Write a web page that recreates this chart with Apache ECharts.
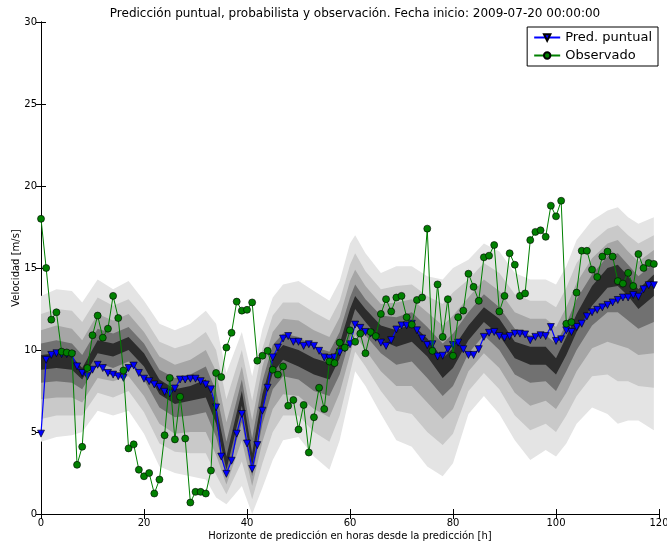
<!DOCTYPE html>
<html>
<head>
<meta charset="utf-8">
<script src="https://cdn.jsdelivr.net/npm/echarts@6/dist/echarts.min.js"></script>
<style>
  html, body { margin: 0; padding: 0; background: #fff; }
  #chart { width: 667px; height: 544px; }
</style>
</head>
<body>
<div id="chart"></div>
<script>
// point forecast (blue) and observation (green), hourly from h=0
var pred = [4.9, 9.4, 9.7, 9.8, 9.75, 9.75, 9.7, 9.0, 8.6, 8.4,
  8.8, 9.1, 8.9, 8.6, 8.5, 8.4, 8.3, 8.9, 9.05, 8.6,
  8.25, 8.1, 7.9, 7.75, 7.45, 7.35, 7.65, 8.2, 8.2, 8.25,
  8.25, 8.1, 7.9, 7.6, 6.5, 3.5, 2.45, 3.25, 4.9, 6.1,
  4.3, 2.75, 4.2, 6.3, 7.7, 9.55, 10.15, 10.7, 10.85, 10.5,
  10.5, 10.25, 10.35, 10.25, 9.95, 9.55, 9.5, 9.55, 9.85, 10.1,
  10.35, 11.55, 11.35, 11.1, 11.0, 10.75, 10.45, 10.25, 10.6, 11.25,
  11.5, 11.5, 11.6, 11.2, 10.7, 10.3, 10.35, 9.6, 9.65, 10.05,
  10.3, 10.45, 10.05, 9.7, 9.7, 10.05, 10.8, 11.05, 11.1, 10.85,
  10.75, 10.85, 11.0, 11.0, 10.95, 10.6, 10.8, 10.9, 10.85, 11.4,
  10.55, 10.65, 11.2, 11.1, 11.4, 11.6, 12.05, 12.3, 12.45, 12.6,
  12.75, 12.9, 13.05, 13.2, 13.2, 13.35, 13.25, 13.7, 13.95, 13.95];

var obs = [18.0, 15.0, 11.85, 12.3, 9.9, 9.85, 9.8, 3.0, 4.1, 8.9,
  10.9, 12.1, 10.75, 11.3, 13.3, 11.95, 8.75, 4.0, 4.25, 2.7,
  2.3, 2.5, 1.25, 2.1, 4.8, 8.3, 4.55, 7.15, 4.6, 0.7,
  1.35, 1.35, 1.25, 2.65, 8.6, 8.35, 10.15, 11.05, 12.95, 12.4,
  12.45, 12.9, 9.35, 9.65, 9.95, 8.8, 8.5, 9.0, 6.6, 6.95,
  5.15, 6.65, 3.75, 5.9, 7.7, 6.4, 9.3, 9.2, 10.45, 10.15,
  11.2, 10.5, 11.0, 9.8, 11.1, 10.85, 12.2, 13.1, 12.35, 13.2,
  13.3, 12.0, 11.55, 13.05, 13.2, 17.4, 9.95, 14.0, 10.8, 13.1,
  9.65, 12.0, 12.4, 14.65, 13.85, 13.0, 15.65, 15.75, 16.4, 12.35,
  13.3, 15.9, 15.2, 13.3, 13.45, 16.7, 17.2, 17.3, 16.9, 18.8,
  18.15, 19.1, 11.6, 11.7, 13.5, 16.05, 16.05, 14.9, 14.45, 15.7,
  16.0, 15.7, 14.2, 14.05, 14.7, 13.9, 15.85, 15.0, 15.3, 15.25];

// probabilistic forecast: quantile edges read at these hours
var bandHours = [0, 3, 6, 8, 11, 14, 17, 20, 23, 26, 29, 32, 34, 36, 39, 41, 43, 45, 47, 50,
  53, 56, 58, 60, 61, 63, 66, 69, 72, 75, 78, 80, 83, 86, 89, 92, 95, 98, 100, 102,
  104, 107, 110, 112, 114, 116, 119];

var lo1 = [4.4,4.7,4.8,5.0,6.3,6.0,6.3,4.9,2.9,2.5,2.3,2.1,1.0,0.6,1.7,0.0,1.6,3.3,4.5,4.7,3.5,2.7,4.5,7.3,8.7,7.8,6.1,4.5,4.1,2.9,2.3,3.1,6.1,7.2,6.1,4.5,3.3,3.9,3.5,4.3,5.5,6.5,6.1,5.5,5.7,5.7,5.1];
var lo2 = [5.8,6.0,6.0,6.0,7.4,7.1,7.5,6.2,4.3,3.8,3.7,3.7,2.4,1.2,3.2,0.9,3.1,5.0,6.0,6.0,5.0,4.4,6.0,8.6,9.9,9.0,7.5,6.3,6.1,5.0,4.2,4.9,7.5,8.6,7.6,6.0,5.1,5.5,5.0,6.0,7.2,8.4,8.5,8.1,8.1,7.8,7.7];
var lo3 = [7.0,7.1,7.1,6.8,8.3,8.1,8.4,7.2,5.5,4.9,5.0,5.0,3.6,1.8,4.5,1.7,4.4,6.4,7.3,7.2,6.4,5.9,7.4,9.7,10.9,10.0,8.7,7.8,7.8,6.8,5.8,6.4,8.7,9.8,8.9,7.4,6.6,6.9,6.4,7.4,8.7,10.1,10.5,10.3,10.1,9.7,9.8];
var lo4 = [8.0,8.1,8.0,7.6,9.2,8.9,9.3,8.2,6.5,5.9,6.0,6.2,4.7,2.3,5.6,2.3,5.5,7.6,8.4,8.2,7.5,7.2,8.5,10.7,11.8,10.9,9.8,9.1,9.3,8.3,7.2,7.8,9.8,10.9,10.0,8.5,8.0,8.1,7.5,8.7,10.0,11.5,12.3,12.3,11.8,11.3,11.7];
var lo5 = [8.8,8.9,8.8,8.2,9.8,9.6,10.0,9.0,7.3,6.7,6.9,7.1,5.5,2.7,6.6,2.9,6.4,8.6,9.4,9.0,8.5,8.2,9.5,11.5,12.5,11.7,10.6,10.2,10.5,9.6,8.3,8.9,10.6,11.7,10.9,9.5,9.1,9.1,8.5,9.7,11.1,12.7,13.8,13.9,13.3,12.5,13.3];
var hi5 = [9.7,9.8,9.6,8.9,10.6,10.4,10.8,9.8,8.2,7.6,7.8,8.2,6.6,3.5,7.5,3.7,7.3,9.6,10.3,10.0,9.5,9.2,10.4,12.5,13.3,12.5,11.5,11.2,11.6,10.7,9.5,10.1,11.5,12.6,11.9,10.5,10.2,10.2,9.5,10.8,12.2,13.9,15.0,15.2,14.5,13.7,14.6];
var hi4 = [10.4,10.6,10.4,9.7,11.3,11.0,11.4,10.4,8.8,8.3,8.5,9.0,7.5,4.4,8.2,4.6,8.1,10.3,11.0,10.8,10.2,9.9,11.1,13.2,14.0,13.1,12.1,12.0,12.3,11.4,10.4,11.0,12.3,13.4,12.6,11.3,10.9,10.9,10.4,11.6,13.1,14.6,15.7,15.9,15.2,14.5,15.3];
var hi3 = [11.2,11.5,11.3,10.6,12.2,11.8,12.2,11.1,9.6,9.1,9.4,10.0,8.7,5.6,9.0,5.7,9.0,11.1,11.9,11.8,11.2,10.8,12.0,14.2,14.9,13.9,12.8,12.9,13.1,12.3,11.5,12.1,13.2,14.3,13.6,12.3,11.9,11.9,11.4,12.6,14.1,15.6,16.5,16.7,16.0,15.4,16.1];
var hi2 = [12.2,12.5,12.4,11.7,13.2,12.7,13.1,12.0,10.5,10.1,10.4,11.1,10.0,7.0,10.0,6.9,10.1,12.1,12.9,12.9,12.3,11.8,13.0,15.2,15.9,14.8,13.7,13.9,14.0,13.3,12.8,13.5,14.3,15.3,14.7,13.4,13.0,13.0,12.6,13.8,15.3,16.6,17.4,17.6,17.0,16.5,17.0];
var hi1 = [13.3,13.7,13.6,12.9,14.3,13.7,14.2,13.0,11.6,11.2,11.6,12.4,11.6,8.6,11.1,8.4,11.3,13.2,14.0,14.2,13.6,13.0,14.2,16.5,17.0,15.9,14.7,15.1,15.1,14.5,14.3,15.0,15.5,16.5,16.0,14.7,14.3,14.3,14.0,15.1,16.7,17.9,18.5,18.7,18.1,17.7,18.1];

var bandLow = [lo1, lo2, lo3, lo4, lo5];
var bandHigh = [hi1, hi2, hi3, hi4, hi5];
var bandColors = ['#e4e4e4', '#c9c9c9', '#a6a6a6', '#717171', '#2c2c2c'];

var font = 'DejaVu Sans';

var chart = echarts.init(document.getElementById('chart'));

var option = {
  animation: false,
  backgroundColor: '#fff',
  textStyle: { fontFamily: font },
  title: {
    text: 'Predicción puntual, probabilista y observación. Fecha inicio: 2009-07-20 00:00:00',
    left: 350,
    textAlign: 'center',
    top: 3,
    textStyle: { fontFamily: font, fontSize: 12, fontWeight: 'normal', color: '#000' }
  },
  legend: {
    data: ['Pred. puntual', 'Observado'],
    orient: 'vertical',
    right: 9,
    top: 27,
    backgroundColor: '#fff',
    borderColor: '#000',
    borderWidth: 1,
    borderRadius: 0,
    padding: [4, 6, 4, 6],
    itemGap: 5,
    itemWidth: 26,
    itemHeight: 8,
    textStyle: { fontFamily: font, fontSize: 13, color: '#000' }
  },
  grid: { left: 41, right: 8, top: 22, bottom: 30, outerBoundsMode: 'none' },
  xAxis: [
    {
      type: 'value', min: 0, max: 120, interval: 20,
      name: 'Horizonte de predicción en horas desde la predicción [h]',
      nameLocation: 'middle', nameGap: 17, nameMoveOverlap: false,
      nameTextStyle: { fontFamily: font, fontSize: 10, color: '#000' },
      axisLine: { lineStyle: { color: '#000', width: 1 } },
      axisTick: { inside: true, length: 5, lineStyle: { color: '#000' } },
      axisLabel: { fontFamily: font, fontSize: 10, color: '#000', margin: 4 },
      splitLine: { show: false }
    },
    {
      type: 'value', min: 0, max: 120, interval: 20, position: 'top',
      axisLine: { lineStyle: { color: '#000', width: 1 } },
      axisTick: { inside: true, length: 5, lineStyle: { color: '#000' } },
      axisLabel: { show: false },
      splitLine: { show: false }
    }
  ],
  yAxis: [
    {
      type: 'value', min: 0, max: 30, interval: 5,
      name: 'Velocidad [m/s]',
      nameLocation: 'middle', nameGap: 20, nameMoveOverlap: false,
      nameTextStyle: { fontFamily: font, fontSize: 10, color: '#000' },
      axisLine: { lineStyle: { color: '#000', width: 1 } },
      axisTick: { inside: true, length: 5, lineStyle: { color: '#000' } },
      axisLabel: { fontFamily: font, fontSize: 10, color: '#000', margin: 4 },
      splitLine: { show: false }
    },
    {
      type: 'value', min: 0, max: 30, interval: 5, position: 'right',
      axisLine: { lineStyle: { color: '#000', width: 1 } },
      axisTick: { inside: true, length: 5, lineStyle: { color: '#000' } },
      axisLabel: { show: false },
      splitLine: { show: false }
    }
  ],
  series: [
    {
      name: 'bandas',
      type: 'custom',
      silent: true,
      z: 1,
      data: [[0, 0], [1, 0], [2, 0], [3, 0], [4, 0]],
      renderItem: function (params, api) {
        var b = params.dataIndex;
        var hi = bandHigh[b], lo = bandLow[b];
        var pts = [];
        for (var i = 0; i < bandHours.length; i++) pts.push(api.coord([bandHours[i], hi[i]]));
        for (var j = bandHours.length - 1; j >= 0; j--) pts.push(api.coord([bandHours[j], lo[j]]));
        return { type: 'polygon', shape: { points: pts }, style: { fill: bandColors[b] } };
      }
    },
    {
      name: 'Pred. puntual',
      type: 'line',
      z: 3,
      data: pred.map(function (v, i) { return [i, v]; }),
      symbol: 'triangle',
      symbolRotate: 180,
      symbolSize: 7,
      lineStyle: { color: '#0000ff', width: 1.2 },
      itemStyle: { color: '#0000ff', borderColor: '#000', borderWidth: 0.6 }
    },
    {
      name: 'Observado',
      type: 'line',
      z: 4,
      data: obs.map(function (v, i) { return [i, v]; }),
      symbol: 'circle',
      symbolSize: 7,
      lineStyle: { color: '#008000', width: 1 },
      itemStyle: { color: '#008000', borderColor: '#000', borderWidth: 0.6 }
    }
  ]
};

chart.setOption(option);
</script>
</body>
</html>
